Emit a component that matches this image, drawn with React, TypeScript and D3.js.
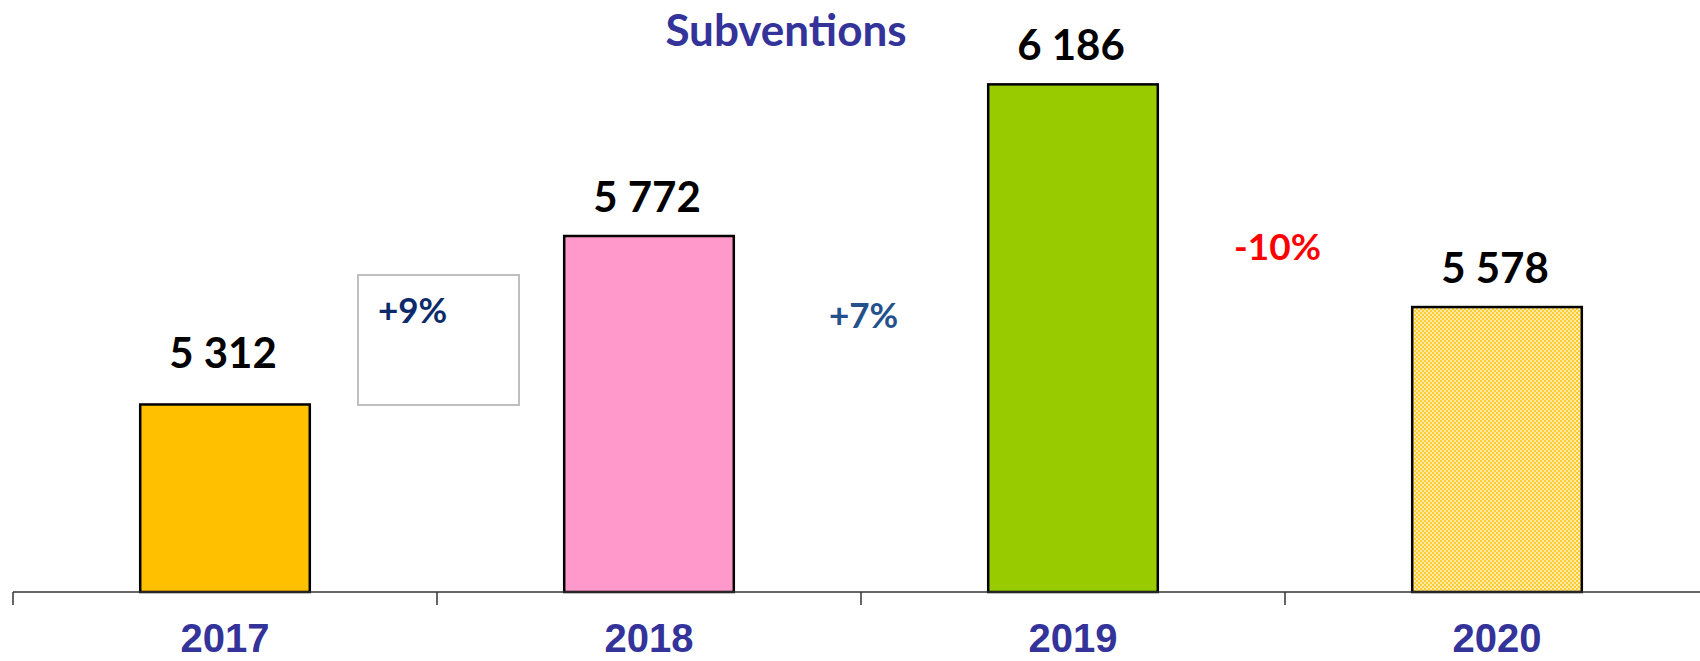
import React from "react";
import * as d3 from "d3";

const categories = ["2017", "2018", "2019", "2020"];
const values = [5312, 5772, 6186, 5578];
const barColors = ["#FFC000", "#FF99CC", "#99CC00", "url(#dots)"];
const changeColors = ["#0B2A6A", "#24518B", "#FF0000"];

const W = 1700;
const H = 661;

export default function App() {
  const x = d3.scaleBand<string>().domain(categories).range([13, 1709]).paddingInner(0).paddingOuter(0);
  const y = d3.scaleLinear().domain([4800, 6400]).range([592, 6]);
  const bw = x.bandwidth() * 0.4;
  const fmt = (v: number) => d3.format(",")(v).replace(/,/g, " ");
  const changes = values.slice(1).map((v, i) => {
    const p = Math.round((v / values[i] - 1) * 100);
    return (p > 0 ? "+" : "") + p + "%";
  });
  // annotation anchor: start x relative to the right edge of the previous band
  const changeDx = [-59, -32, -51];
  const changeY = [323, 328, 260];
  const boundaries = categories.slice(1).map((c) => x(c)!);
  const ticks = categories.map((c) => x(c)!);

  return (
    <svg width={W} height={H} style={{ position: "absolute", left: 0, top: 0, background: "#fff" }}>
      <defs>
        <pattern id="dots" width="4" height="4" patternUnits="userSpaceOnUse">
          <rect width="4" height="4" fill="#FFEBA6" />
          <rect x="0" y="0" width="2" height="2" fill="#FFCC33" />
          <rect x="2" y="2" width="2" height="2" fill="#FFCC33" />
        </pattern>
      </defs>
      <text x={786} y={46} textAnchor="middle" fill="#333399" fontFamily="Lato, 'Open Sans', sans-serif" fontWeight="bold" fontSize={44}>
        Subventions
      </text>
      {categories.map((c, i) => {
        const cx = x(c)! + x.bandwidth() / 2;
        return (
          <g key={c}>
            <rect x={cx - bw / 2} y={y(values[i])} width={bw} height={y(4800) - y(values[i])} fill={barColors[i]} stroke="#000" strokeWidth={2.5} />
            <text x={cx - 2} y={y(values[i]) - (i === 0 ? 36 : 24)} textAnchor="middle" fontFamily="Lato, 'Open Sans', sans-serif" fontWeight="bold" fontSize={42} fill="#000">
              {fmt(values[i])}
            </text>
            <text x={cx} y={652} textAnchor="middle" fontFamily="'Liberation Sans', Arial, sans-serif" fontWeight="bold" fontSize={40} fill="#333399">
              {c}
            </text>
          </g>
        );
      })}
      <rect x={358} y={275} width={161} height={130} fill="none" stroke="#BFBFBF" strokeWidth={2} />
      {changes.map((t, i) => (
        <text key={t} x={boundaries[i] + changeDx[i]} y={changeY[i]} fontFamily="Lato, 'Open Sans', sans-serif" fontWeight="bold" fontSize={i === 2 ? 37 : 35} fill={changeColors[i]}>
          {t}
        </text>
      ))}
      <line x1={13} x2={1709} y1={592} y2={592} stroke="#333" strokeWidth={1.5} />
      {ticks.map((t) => (
        <line key={t} x1={t} x2={t} y1={592} y2={605} stroke="#333" strokeWidth={1.5} />
      ))}
    </svg>
  );
}
